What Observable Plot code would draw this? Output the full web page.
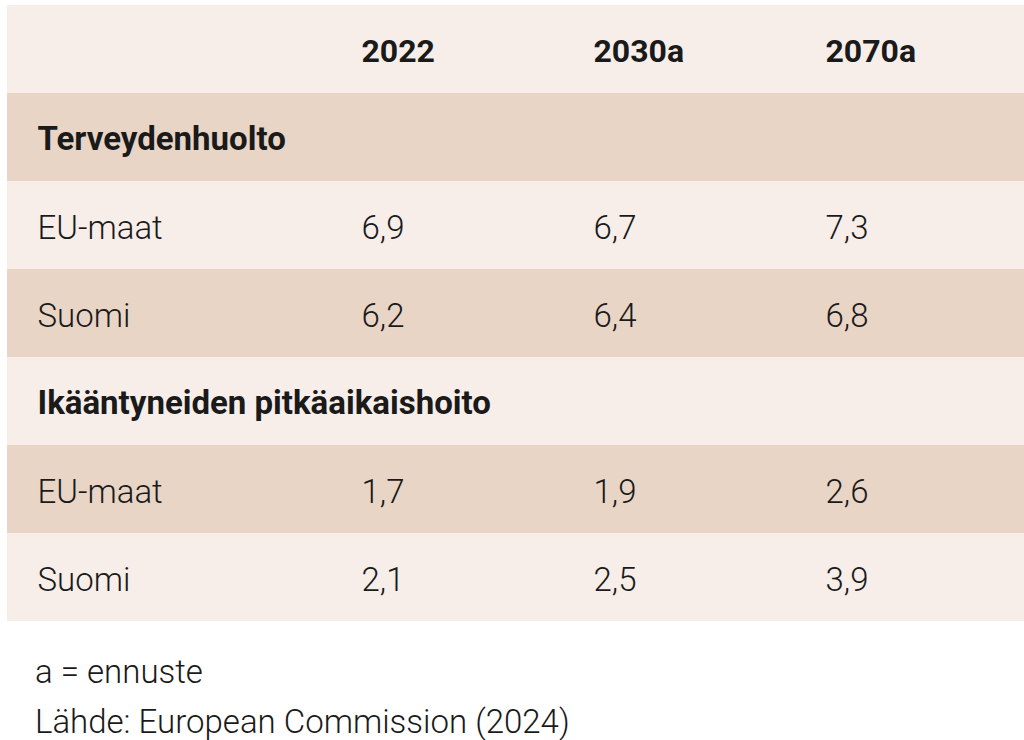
<!DOCTYPE html>
<html>
<head>
<meta charset="utf-8">
<script src="https://cdn.jsdelivr.net/npm/d3@7"></script>
<script src="https://cdn.jsdelivr.net/npm/@observablehq/plot@0.6"></script>
<style>
  body { margin: 0; background: #ffffff; }
  #caption { font-family: Roboto, sans-serif; font-weight: 300; font-size: 33px; line-height: 50px; color: #1a1a1a; margin: 22px 0 0 35px; }
</style>
</head>
<body>
<div id="chart"></div>
<div id="caption"></div>
<script>
const columns = ["2022", "2030a", "2070a"];
const sections = ["Terveydenhuolto", "Ikääntyneiden pitkäaikaishoito"];
const regions = ["EU-maat", "Suomi"];
const terveysEU = [6.9, 6.7, 7.3];
const terveysSuomi = [6.2, 6.4, 6.8];
const hoitoEU = [1.7, 1.9, 2.6];
const hoitoSuomi = [2.1, 2.5, 3.9];
const captionLines = ["a = ennuste", "Lähde: European Commission (2024)"];

const sectionValues = [[terveysEU, terveysSuomi], [hoitoEU, hoitoSuomi]];

const rows = [{id: 0, kind: "header", label: ""}];
sections.forEach((s, si) => {
  rows.push({id: rows.length, kind: "section", label: s});
  regions.forEach((r, ri) => {
    rows.push({id: rows.length, kind: "data", label: r, values: sectionValues[si][ri]});
  });
});

const fmt = v => d3.format(".1f")(v).replace(".", ",");
const headerCells = columns.map(c => ({id: 0, col: c, text: c}));
const valueCells = rows.filter(r => r.kind === "data")
  .flatMap(r => r.values.map((v, i) => ({id: r.id, col: columns[i], text: fmt(v)})));

const light = "#f7eee9";
const dark = "#e8d5c6";
const ink = "#1a1a1a";

const chart = Plot.plot({
  width: 1024,
  height: 625,
  marginLeft: 7,
  marginRight: 0,
  marginTop: 3,
  marginBottom: 3,
  style: {fontFamily: "Roboto, sans-serif", background: "#ffffff", color: ink},
  x: {type: "point", domain: columns, range: [360, 825], padding: 0, axis: null},
  y: {type: "band", domain: rows.map(r => r.id), padding: 0, axis: null},
  marks: [
    Plot.cell(rows.filter(r => r.id % 2 === 0), {y: "id", fill: light, inset: 0}),
    Plot.cell(rows.filter(r => r.id % 2 === 1), {y: "id", fill: dark, inset: 0}),
    Plot.text(headerCells, {x: "col", y: "id", text: "text", textAnchor: "start", fontSize: 32, fontWeight: 700, fill: ink, dy: 2}),
    Plot.text(rows.filter(r => r.kind === "section"), {y: "id", text: "label", frameAnchor: "left", dx: 30, textAnchor: "start", fontSize: 33, fontWeight: 700, fill: ink, dy: 2}),
    Plot.text(rows.filter(r => r.kind === "data"), {y: "id", text: "label", frameAnchor: "left", dx: 30, textAnchor: "start", fontSize: 33, fontWeight: 300, fill: ink, dy: 3}),
    Plot.text(valueCells, {x: "col", y: "id", text: "text", textAnchor: "start", fontSize: 33, fontWeight: 300, fill: ink, dy: 3})
  ]
});
document.getElementById("chart").appendChild(chart);
const cap = document.getElementById("caption");
captionLines.forEach(t => { const d = document.createElement("div"); d.textContent = t; cap.appendChild(d); });
</script>
</body>
</html>
